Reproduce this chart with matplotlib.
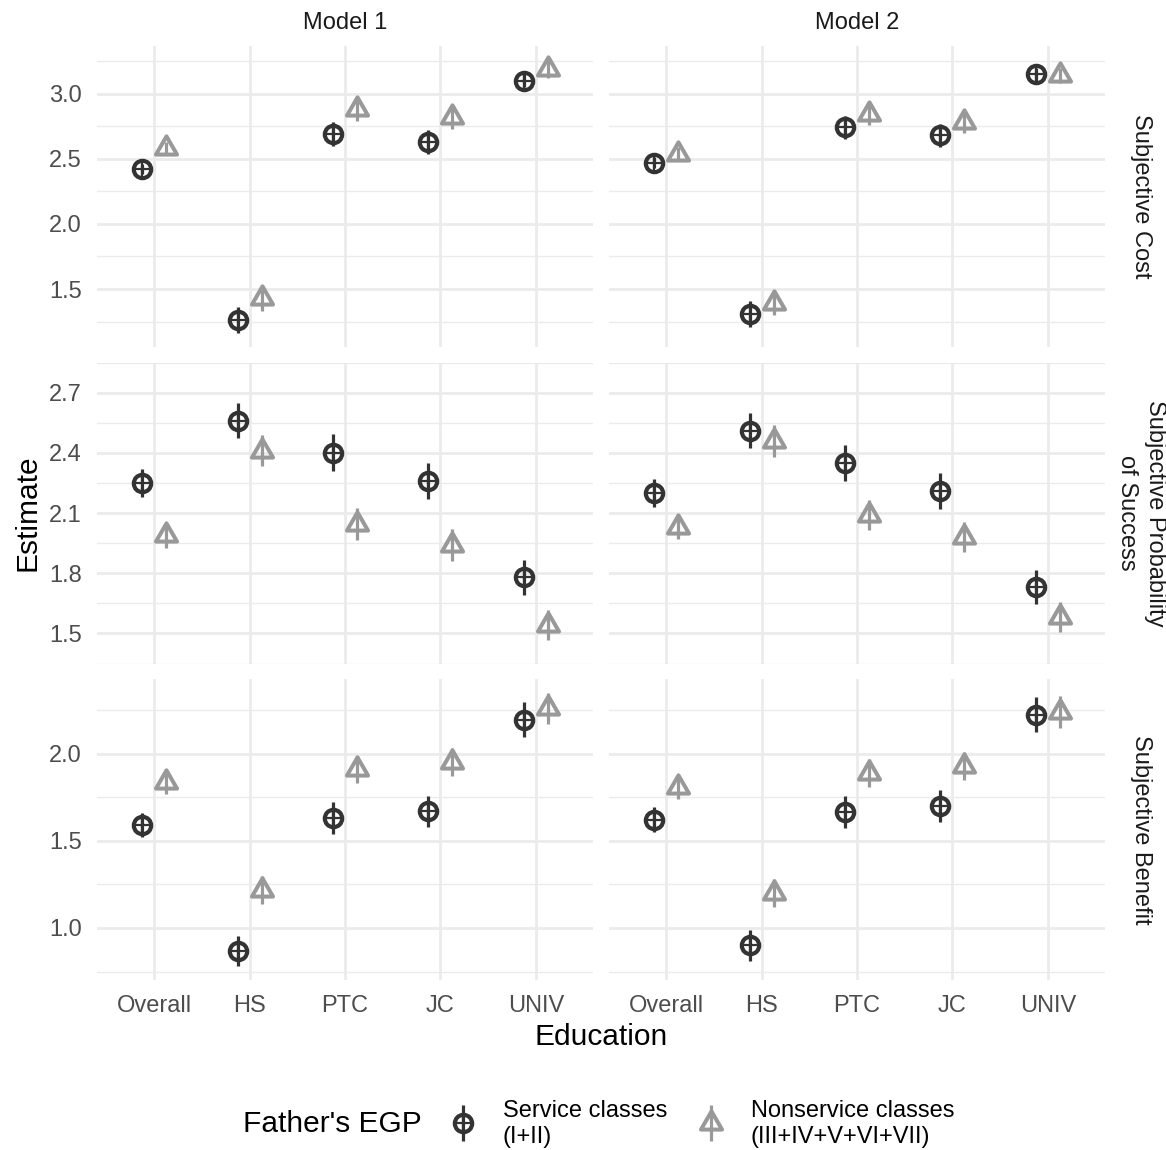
import matplotlib
matplotlib.use('Agg')
import matplotlib.pyplot as plt
from matplotlib.path import Path
from matplotlib.markers import MarkerStyle
import numpy as np

plt.rcParams['font.family'] = ['Liberation Sans', 'DejaVu Sans']

# Categories and facet labels
education = ['Overall', 'HS', 'PTC', 'JC', 'UNIV']
models = ['Model 1', 'Model 2']
outcomes = ['Subjective Cost', 'Subjective Probability\nof Success', 'Subjective Benefit']
groups = ['Service classes\n(I+II)', 'Nonservice classes\n(III+IV+V+VI+VII)']

# Subjective cost: estimates and CI half-widths
cost_m1_service = [2.42, 1.26, 2.69, 2.63, 3.10]
cost_m1_service_err = [0.04, 0.10, 0.095, 0.09, 0.05]
cost_m1_nonservice = [2.58, 1.43, 2.88, 2.82, 3.19]
cost_m1_nonservice_err = [0.05, 0.10, 0.09, 0.09, 0.07]
cost_m2_service = [2.47, 1.31, 2.74, 2.68, 3.15]
cost_m2_service_err = [0.04, 0.10, 0.09, 0.09, 0.05]
cost_m2_nonservice = [2.54, 1.39, 2.84, 2.78, 3.14]
cost_m2_nonservice_err = [0.05, 0.09, 0.08, 0.08, 0.06]

# Subjective probability of success
prob_m1_service = [2.25, 2.56, 2.40, 2.26, 1.78]
prob_m1_service_err = [0.07, 0.087, 0.092, 0.09, 0.087]
prob_m1_nonservice = [1.99, 2.41, 2.045, 1.94, 1.54]
prob_m1_nonservice_err = [0.062, 0.078, 0.079, 0.08, 0.075]
prob_m2_service = [2.20, 2.51, 2.35, 2.21, 1.73]
prob_m2_service_err = [0.07, 0.088, 0.09, 0.089, 0.085]
prob_m2_nonservice = [2.03, 2.46, 2.09, 1.98, 1.58]
prob_m2_nonservice_err = [0.062, 0.08, 0.076, 0.075, 0.075]

# Subjective benefit
bene_m1_service = [1.59, 0.866, 1.63, 1.67, 2.195]
bene_m1_service_err = [0.07, 0.086, 0.093, 0.09, 0.10]
bene_m1_nonservice = [1.84, 1.22, 1.91, 1.95, 2.26]
bene_m1_nonservice_err = [0.07, 0.08, 0.078, 0.08, 0.09]
bene_m2_service = [1.62, 0.90, 1.665, 1.70, 2.224]
bene_m2_service_err = [0.072, 0.089, 0.094, 0.094, 0.10]
bene_m2_nonservice = [1.81, 1.20, 1.89, 1.93, 2.24]
bene_m2_nonservice_err = [0.07, 0.08, 0.08, 0.08, 0.09]

# y tick values per row
cost_ticks = [1.5, 2.0, 2.5, 3.0]
prob_ticks = [1.5, 1.8, 2.1, 2.4, 2.7]
bene_ticks = [1.0, 1.5, 2.0]

# rows -> models -> groups -> (estimate, half width)
table = [
    [[(cost_m1_service, cost_m1_service_err), (cost_m1_nonservice, cost_m1_nonservice_err)],
     [(cost_m2_service, cost_m2_service_err), (cost_m2_nonservice, cost_m2_nonservice_err)]],
    [[(prob_m1_service, prob_m1_service_err), (prob_m1_nonservice, prob_m1_nonservice_err)],
     [(prob_m2_service, prob_m2_service_err), (prob_m2_nonservice, prob_m2_nonservice_err)]],
    [[(bene_m1_service, bene_m1_service_err), (bene_m1_nonservice, bene_m1_nonservice_err)],
     [(bene_m2_service, bene_m2_service_err), (bene_m2_nonservice, bene_m2_nonservice_err)]],
]
row_ticks = [cost_ticks, prob_ticks, bene_ticks]

colors = ['#333333', '#999999']
DODGE = 0.125
GRID = '#EBEBEB'

# open triangle with its centroid on the data point
tri_path = Path([(0, 1), (-0.866, -0.5), (0.866, -0.5), (0, 1)],
                [Path.MOVETO, Path.LINETO, Path.LINETO, Path.CLOSEPOLY])
tri_marker = MarkerStyle(tri_path, joinstyle='miter')


def draw_point(ax, x, y, g, lo=None, hi=None):
    """ Point with an error bar; group 0 is a circle with a cross, group 1 an open triangle. """
    c = colors[g]
    if lo is not None:
        ax.vlines(x, lo, hi, color=c, lw=2.3, zorder=3)
    if g == 0:
        ax.plot(x, y, ls='none', marker='o', ms=12.5, mfc='none', mec=c, mew=3.0, zorder=4)
        ax.plot(x, y, ls='none', marker='+', ms=12.5, mec=c, mew=1.6, zorder=4)
    else:
        ax.plot(x, y, ls='none', marker=tri_marker, ms=17.5, mfc='none', mec=c, mew=2.9, zorder=4)


W, H = 1166, 1150
fig = plt.figure(figsize=(W / 100, H / 100), dpi=100)


def px_axes(left, top, width, height):
    return fig.add_axes([left / W, 1 - (top + height) / H, width / W, height / H])


col_left = [97, 609]
panel_w = 496
row_top = [46, 362.5, 679]
panel_h = 301
xpos = np.arange(len(education))

for r in range(len(outcomes)):
    # shared y range for the row, ggplot-style 5% expansion
    lows, highs = [], []
    for m in range(len(models)):
        for g in range(len(groups)):
            est, err = np.array(table[r][m][g][0]), np.array(table[r][m][g][1])
            lows.append((est - err).min())
            highs.append((est + err).max())
    lo, hi = min(lows), max(highs)
    pad = (hi - lo) * 0.05
    ticks = row_ticks[r]
    step = ticks[1] - ticks[0]
    minor = np.arange(ticks[0] - step / 2, ticks[-1] + step, step)

    for m in range(len(models)):
        ax = px_axes(col_left[m], row_top[r], panel_w, panel_h)
        for g in range(len(groups)):
            est, err = np.array(table[r][m][g][0]), np.array(table[r][m][g][1])
            x = xpos + (DODGE if g else -DODGE)
            draw_point(ax, x, est, g, est - err, est + err)

        ax.set_xlim(-0.6, len(education) - 0.4)
        ax.set_ylim(lo - pad, hi + pad)
        ax.set_xticks(xpos)
        ax.set_yticks(ticks)
        ax.set_yticks(minor, minor=True)
        ax.set_xticklabels(education if r == len(outcomes) - 1 else [])
        ax.set_yticklabels(['%.1f' % t for t in ticks] if m == 0 else [])
        ax.tick_params(which='both', length=0, pad=11, labelsize=17, labelcolor='#4D4D4D')
        for s in ax.spines.values():
            s.set_visible(False)
        ax.grid(which='major', color=GRID, lw=2.0)
        ax.grid(which='minor', axis='y', color=GRID, lw=1.0)
        ax.set_axisbelow(True)

        if r == 0:
            fig.text((col_left[m] + panel_w / 2) / W, 1 - 23 / H, models[m],
                     ha='center', va='center', fontsize=17, color='#1A1A1A')
    fig.text(1141 / W, 1 - (row_top[r] + panel_h / 2) / H, outcomes[r], rotation=270,
             ha='center', va='center', multialignment='center', fontsize=17,
             color='#1A1A1A', linespacing=1.35)

fig.text(28 / W, 1 - 513 / H, 'Estimate', rotation=90, ha='center', va='center', fontsize=21.5)
fig.text(601 / W, 1 - 1037 / H, 'Education', ha='center', va='center', fontsize=21.5)

# legend along the bottom
leg = fig.add_axes([0, 0, 1, 1])
leg.set_xlim(0, W)
leg.set_ylim(H, 0)
leg.axis('off')
leg.text(243, 1124, "Father's EGP", ha='left', va='center', fontsize=21.5)
key_x = [463, 711]
for g in range(len(groups)):
    draw_point(leg, key_x[g], 1123, g, 1105, 1141)
    leg.text(key_x[g] + 40, 1124, groups[g], ha='left', va='center', fontsize=17,
             linespacing=1.2)

fig.savefig('out.png', dpi=100)
